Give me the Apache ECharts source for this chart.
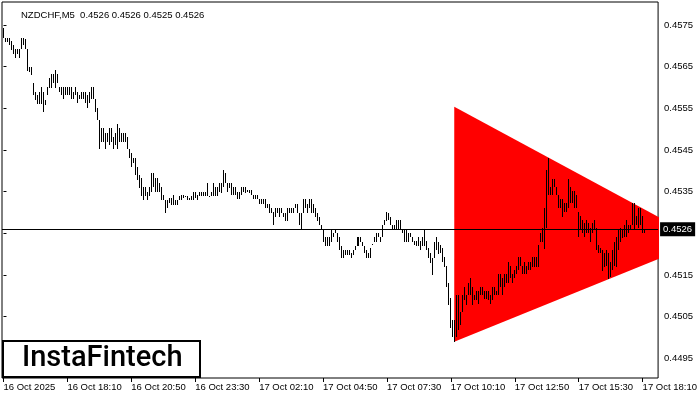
<!DOCTYPE html>
<html>
<head>
<meta charset="utf-8">
<script src="https://cdn.jsdelivr.net/npm/echarts@6/dist/echarts.min.js"></script>
<style>
  html, body { margin: 0; padding: 0; background: #fff; }
  #chart { width: 700px; height: 400px; }
</style>
</head>
<body>
<div id="chart"></div>
<script>
// NZDCHF M5 bars, one entry per 5 min bar starting 16 Oct 15:30
const highs = [
  0.45743,0.45719,0.45719,0.45719,0.45712,0.45702,0.45692,0.45692,0.45692,0.45719,
  0.45719,0.45716,0.45692,0.45649,0.45649,0.45611,0.45589,0.45582,0.45589,0.45601,
  0.45589,0.45570,0.45601,0.45623,0.45632,0.45632,0.45642,0.45632,0.45601,0.45601,
  0.45601,0.45601,0.45601,0.45601,0.45601,0.45589,0.45601,0.45589,0.45582,0.45589,
  0.45589,0.45589,0.45582,0.45589,0.45601,0.45601,0.45572,0.45551,0.45522,0.45503,
  0.45503,0.45491,0.45491,0.45503,0.45503,0.45481,0.45491,0.45512,0.45503,0.45491,
  0.45491,0.45491,0.45481,0.45452,0.45443,0.45431,0.45431,0.45409,0.45390,0.45383,
  0.45361,0.45361,0.45349,0.45361,0.45395,0.45395,0.45383,0.45383,0.45371,0.45361,
  0.45342,0.45330,0.45330,0.45335,0.45335,0.45342,0.45330,0.45330,0.45340,0.45342,
  0.45342,0.45340,0.45340,0.45335,0.45340,0.45349,0.45349,0.45342,0.45349,0.45349,
  0.45349,0.45349,0.45371,0.45340,0.45349,0.45371,0.45361,0.45361,0.45371,0.45371,
  0.45402,0.45395,0.45371,0.45371,0.45371,0.45361,0.45361,0.45349,0.45349,0.45361,
  0.45361,0.45361,0.45354,0.45354,0.45354,0.45342,0.45342,0.45342,0.45332,0.45332,
  0.45332,0.45332,0.45320,0.45320,0.45311,0.45301,0.45311,0.45311,0.45311,0.45311,
  0.45299,0.45299,0.45311,0.45311,0.45311,0.45311,0.45320,0.45320,0.45299,0.45299,
  0.45332,0.45332,0.45320,0.45332,0.45332,0.45320,0.45311,0.45299,0.45289,0.45270,
  0.45258,0.45241,0.45241,0.45241,0.45258,0.45251,0.45258,0.45251,0.45241,0.45220,
  0.45210,0.45210,0.45210,0.45210,0.45203,0.45210,0.45220,0.45241,0.45241,0.45241,
  0.45229,0.45220,0.45210,0.45203,0.45215,0.45224,0.45241,0.45251,0.45251,0.45241,
  0.45270,0.45282,0.45301,0.45299,0.45289,0.45270,0.45270,0.45282,0.45282,0.45282,
  0.45260,0.45260,0.45260,0.45251,0.45251,0.45241,0.45232,0.45232,0.45241,0.45232,
  0.45241,0.45260,0.45232,0.45215,0.45203,0.45191,0.45229,0.45241,0.45229,0.45222,
  0.45215,0.45193,0.45172,0.45131,0.45095,0.45042,0.45042,0.45102,0.45102,0.45061,
  0.45102,0.45121,0.45102,0.45131,0.45143,0.45121,0.45102,0.45112,0.45112,0.45121,
  0.45121,0.45112,0.45112,0.45112,0.45102,0.45121,0.45121,0.45112,0.45152,0.45152,
  0.45143,0.45152,0.45152,0.45181,0.45172,0.45152,0.45162,0.45172,0.45193,0.45193,
  0.45172,0.45181,0.45172,0.45181,0.45181,0.45193,0.45193,0.45193,0.45222,0.45251,
  0.45263,0.45311,0.45402,0.45431,0.45361,0.45380,0.45380,0.45361,0.45342,0.45332,
  0.45332,0.45323,0.45323,0.45380,0.45361,0.45352,0.45352,0.45342,0.45301,0.45292,
  0.45282,0.45275,0.45282,0.45275,0.45263,0.45275,0.45282,0.45263,0.45222,0.45215,
  0.45210,0.45203,0.45210,0.45203,0.45181,0.45210,0.45229,0.45241,0.45260,0.45263,
  0.45260,0.45270,0.45282,0.45270,0.45270,0.45323,0.45323,0.45292,0.45311,0.45311,
  0.45292,0.45260
];
const lows = [
  0.45719,0.45709,0.45709,0.45702,0.45690,0.45680,0.45671,0.45680,0.45671,0.45692,
  0.45702,0.45692,0.45640,0.45637,0.45630,0.45582,0.45570,0.45560,0.45560,0.45560,
  0.45541,0.45558,0.45582,0.45599,0.45599,0.45611,0.45599,0.45611,0.45589,0.45582,
  0.45572,0.45582,0.45582,0.45582,0.45572,0.45572,0.45582,0.45563,0.45572,0.45572,
  0.45572,0.45563,0.45551,0.45563,0.45572,0.45572,0.45541,0.45522,0.45452,0.45469,
  0.45469,0.45452,0.45469,0.45462,0.45469,0.45452,0.45462,0.45452,0.45469,0.45469,
  0.45469,0.45469,0.45452,0.45431,0.45409,0.45419,0.45390,0.45378,0.45359,0.45340,
  0.45330,0.45340,0.45330,0.45340,0.45349,0.45361,0.45349,0.45349,0.45349,0.45330,
  0.45330,0.45299,0.45311,0.45323,0.45318,0.45318,0.45318,0.45318,0.45330,0.45330,
  0.45335,0.45337,0.45330,0.45330,0.45330,0.45330,0.45335,0.45330,0.45340,0.45340,
  0.45340,0.45340,0.45340,0.45337,0.45340,0.45340,0.45340,0.45340,0.45349,0.45347,
  0.45361,0.45371,0.45349,0.45359,0.45342,0.45342,0.45342,0.45332,0.45332,0.45342,
  0.45349,0.45347,0.45349,0.45347,0.45342,0.45332,0.45332,0.45332,0.45320,0.45320,
  0.45320,0.45311,0.45311,0.45299,0.45299,0.45270,0.45289,0.45299,0.45289,0.45299,
  0.45289,0.45280,0.45280,0.45299,0.45299,0.45299,0.45311,0.45299,0.45270,0.45260,
  0.45299,0.45311,0.45299,0.45311,0.45299,0.45299,0.45289,0.45280,0.45270,0.45258,
  0.45229,0.45220,0.45220,0.45220,0.45229,0.45241,0.45251,0.45229,0.45210,0.45191,
  0.45191,0.45198,0.45198,0.45198,0.45191,0.45198,0.45210,0.45220,0.45220,0.45229,
  0.45220,0.45203,0.45191,0.45191,0.45191,0.45222,0.45229,0.45229,0.45241,0.45229,
  0.45241,0.45270,0.45280,0.45282,0.45270,0.45260,0.45260,0.45260,0.45260,0.45260,
  0.45251,0.45229,0.45229,0.45229,0.45241,0.45229,0.45222,0.45220,0.45220,0.45210,
  0.45220,0.45220,0.45210,0.45191,0.45179,0.45150,0.45191,0.45210,0.45200,0.45203,
  0.45181,0.45169,0.45121,0.45078,0.45023,0.45001,0.44989,0.45001,0.45018,0.45030,
  0.45061,0.45090,0.45078,0.45102,0.45102,0.45078,0.45090,0.45090,0.45080,0.45102,
  0.45102,0.45092,0.45092,0.45090,0.45080,0.45090,0.45102,0.45102,0.45102,0.45121,
  0.45102,0.45121,0.45131,0.45131,0.45143,0.45131,0.45143,0.45152,0.45162,0.45172,
  0.45152,0.45152,0.45152,0.45162,0.45162,0.45169,0.45169,0.45169,0.45169,0.45229,
  0.45229,0.45212,0.45263,0.45342,0.45342,0.45342,0.45361,0.45342,0.45311,0.45311,
  0.45289,0.45301,0.45301,0.45311,0.45323,0.45323,0.45311,0.45311,0.45241,0.45260,
  0.45251,0.45241,0.45251,0.45251,0.45229,0.45251,0.45260,0.45210,0.45203,0.45203,
  0.45160,0.45169,0.45172,0.45140,0.45145,0.45162,0.45172,0.45169,0.45210,0.45229,
  0.45239,0.45241,0.45241,0.45251,0.45260,0.45270,0.45260,0.45270,0.45263,0.45270,
  0.45251,0.45251
];

const priceTicks = [0.4495, 0.4505, 0.4515, 0.4525, 0.4535, 0.4545, 0.4555, 0.4565, 0.4575];
const timeTicks = [0, 32, 64, 96, 128, 160, 192, 224, 256, 288, 320];
const timeLabels = ['16 Oct 2025', '16 Oct 18:10', '16 Oct 20:50', '16 Oct 23:30', '17 Oct 02:10',
  '17 Oct 04:50', '17 Oct 07:30', '17 Oct 10:10', '17 Oct 12:50', '17 Oct 15:30', '17 Oct 18:10'];
const lastPrice = 0.4526;
const headline = 'NZDCHF,M5  0.4526 0.4526 0.4525 0.4526';

// symmetrical triangle pattern (bar index, price)
const triangleX = [225.7, 225.7, 350.2];
const triangleY = [0.45554, 0.44990, 0.45232];

const font = '"Liberation Sans", Arial, sans-serif';
const chart = echarts.init(document.getElementById('chart'));
const bars = highs.map((h, i) => [i, lows[i], h]);

const option = {
  animation: false,
  backgroundColor: '#fff',
  title: {
    text: headline,
    left: 16, top: 5,
    textStyle: { fontFamily: font, fontSize: 9.5, fontWeight: 'normal', color: '#000' }
  },
  grid: { left: 2, right: 41, top: 2, bottom: 22, show: true, borderColor: '#000', borderWidth: 1 },
  xAxis: {
    type: 'value', min: -0.75, max: 327.75,
    axisLine: { show: false },
    splitLine: { show: false },
    axisTick: { customValues: timeTicks, length: 4, lineStyle: { color: '#000' } },
    axisLabel: {
      customValues: timeTicks,
      formatter: v => timeLabels[timeTicks.indexOf(v)],
      align: 'left', margin: 4,
      color: '#000', fontFamily: font, fontSize: 9.5
    }
  },
  yAxis: {
    type: 'value', position: 'right', min: 0.449028, max: 0.458052, scale: true,
    axisLine: { show: false },
    splitLine: { show: false },
    axisTick: { show: true, customValues: priceTicks, length: 3, lineStyle: { color: '#000' } },
    axisLabel: {
      customValues: priceTicks,
      formatter: v => v.toFixed(4),
      margin: 6, color: '#000', fontFamily: font, fontSize: 9.5
    }
  },
  graphic: [
    {
      type: 'rect', z: 100,
      shape: { x: 3, y: 341, width: 197, height: 36 },
      style: { fill: '#fff', stroke: '#000', lineWidth: 2 }
    },
    {
      type: 'text', z: 101,
      style: { x: 22, y: 359, text: 'InstaFintech', fill: '#000', font: '500 29px Roboto, sans-serif', textVerticalAlign: 'middle' }
    }
  ],
  series: [
    {
      type: 'custom',
      clip: true,
      data: [[triangleX[0], triangleY[0]]],
      renderItem: (params, api) => {
        const pts = triangleX.map((x, k) => api.coord([x, triangleY[k]]));
        return { type: 'polygon', shape: { points: pts }, style: { fill: '#ff0000' } };
      },
      z: 1
    },
    {
      type: 'custom',
      clip: true,
      data: bars,
      encode: { x: 0, y: [1, 2] },
      renderItem: (params, api) => {
        const top = api.coord([api.value(0), api.value(2)]);
        const bot = api.coord([api.value(0), api.value(1)]);
        const y0 = Math.round(top[1]);
        const y1 = Math.round(bot[1]);
        return {
          type: 'rect',
          shape: { x: Math.round(top[0] - 0.5), y: y0, width: 1, height: Math.max(1, y1 - y0) },
          style: { fill: '#000' }
        };
      },
      z: 2
    },
    {
      // current price line
      type: 'line',
      data: [],
      markLine: {
        silent: true,
        symbol: 'none',
        data: [[{ coord: [-0.75, lastPrice] }, { coord: [327.75, lastPrice] }]],
        lineStyle: { color: '#000', width: 1, type: 'solid' },
        label: {
          position: 'end', distance: 2,
          formatter: lastPrice.toFixed(4),
          backgroundColor: '#000', color: '#fff', padding: [2, 3],
          fontFamily: font, fontSize: 9.5
        }
      },
      z: 3
    }
  ]
};
chart.setOption(option);
</script>
</body>
</html>
